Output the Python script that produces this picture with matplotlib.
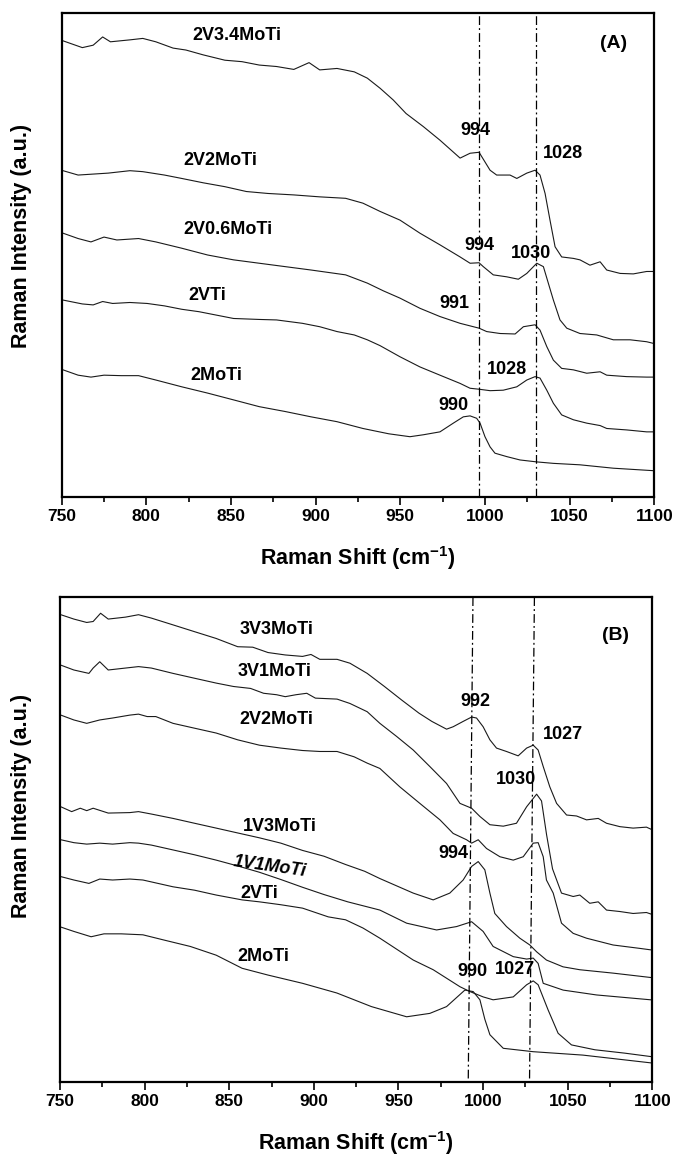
import matplotlib
matplotlib.use("Agg")
import matplotlib.pyplot as plt
from matplotlib.ticker import MultipleLocator

# ---------------- panel A data (Raman shift, intensity a.u.) ----------------
a_2v34_x = [750.8, 762.2, 768.6, 774.2, 778.8, 790.3, 797.9, 805.6, 815.8, 823.4, 833.6, 846.4, 856.5,
            866.7, 876.9, 887.1, 896.1, 902.4, 912.6, 922.8, 930.5, 938.1, 945.8, 953.4, 963.6, 973.4,
            985.3, 991.2, 996.5, 1003.0, 1006.9, 1014.8, 1018.8, 1024.7, 1029.6, 1032.5, 1035.5, 1038.4,
            1041.4, 1045.3, 1052.2, 1056.1, 1062.0, 1068.0, 1071.9, 1079.8, 1087.6, 1095.5, 1099.0]
a_2v34_y = [94.2, 92.8, 93.3, 95.0, 94.0, 94.4, 94.7, 94.0, 92.7, 92.3, 91.3, 90.2, 89.9,
            89.2, 88.9, 88.3, 89.7, 88.2, 88.5, 87.8, 86.5, 84.4, 82.0, 79.2, 76.5, 73.7,
            70.0, 71.0, 71.2, 67.5, 66.5, 66.5, 65.8, 66.9, 67.5, 66.5, 62.7, 57.2,
            51.7, 49.6, 49.3, 49.0, 47.9, 48.6, 46.9, 46.2, 46.1, 46.6, 46.6]

a_2v2_x = [750.8, 759.7, 777.5, 790.3, 797.9, 810.7, 820.9, 833.6, 846.4, 859.1, 871.8, 887.1, 902.4,
           917.7, 927.9, 938.0, 949.8, 961.6, 973.4, 985.3, 991.2, 996.5, 999.0, 1004.9, 1012.8, 1019.7,
           1024.7, 1030.6, 1034.5, 1037.4, 1040.4, 1044.3, 1048.3, 1056.1, 1066.0, 1075.8, 1085.7,
           1095.5, 1099.0]
a_2v2_y = [67.4, 66.5, 66.9, 67.4, 67.2, 66.5, 65.8, 64.9, 64.1, 63.1, 62.7, 62.4, 62.0,
           61.7, 60.7, 59.0, 57.2, 54.5, 52.1, 49.6, 48.3, 48.4, 47.6, 45.9, 45.5, 45.0,
           46.2, 48.3, 47.6, 44.2, 40.7, 36.6, 34.9, 33.8, 33.5, 32.5, 32.5, 32.1, 31.8]

a_2v06_x = [750.8, 759.7, 767.3, 775.0, 782.6, 795.4, 805.6, 820.9, 836.2, 851.5, 866.7, 882.0, 897.3,
            917.7, 930.5, 940.0, 949.8, 961.6, 973.4, 985.3, 996.5, 1001.0, 1008.9, 1017.8, 1022.7,
            1029.6, 1032.5, 1036.5, 1040.4, 1045.3, 1052.2, 1060.1, 1068.0, 1071.9, 1083.7, 1095.5, 1099.0]
a_2v06_y = [54.5, 53.4, 52.7, 53.7, 53.1, 53.4, 52.7, 51.4, 50.0, 49.0, 48.3, 47.6, 46.9,
            45.9, 44.2, 42.6, 41.1, 39.0, 37.3, 35.9, 34.9, 34.2, 33.8, 33.7, 35.2,
            35.6, 34.5, 31.1, 28.3, 26.6, 26.3, 25.6, 25.9, 25.2, 24.9, 24.8, 24.8]

a_2vti_x = [750.8, 762.2, 768.6, 774.2, 780.1, 790.3, 800.5, 810.7, 820.9, 831.1, 841.3, 851.5, 866.7,
            876.9, 892.2, 902.4, 912.6, 922.8, 930.5, 938.0, 949.8, 961.6, 973.4, 985.3, 991.2, 996.5,
            1003.0, 1010.8, 1018.8, 1024.7, 1029.6, 1032.5, 1036.5, 1040.4, 1045.3, 1052.2, 1060.1,
            1068.0, 1071.9, 1083.7, 1095.5, 1099.0]
a_2vti_y = [40.7, 39.9, 39.7, 40.4, 40.0, 40.2, 40.0, 39.5, 38.8, 38.3, 37.6, 36.9, 36.7,
            36.6, 35.9, 35.2, 34.2, 33.5, 32.5, 31.3, 29.0, 26.9, 25.2, 23.5, 22.5, 22.3,
            22.0, 22.1, 22.8, 24.2, 24.9, 24.6, 22.1, 19.4, 17.0, 16.0, 15.3,
            14.8, 14.2, 13.9, 13.5, 13.5]

a_2moti_x = [750.8, 759.7, 767.3, 775.0, 785.2, 795.4, 805.6, 820.9, 836.2, 851.5, 866.7, 882.0, 897.3,
             912.6, 927.9, 943.2, 955.7, 963.6, 973.4, 981.3, 987.2, 991.2, 995.1, 997.1, 1000.0,
             1003.0, 1005.9, 1012.8, 1020.7, 1030.6, 1040.4, 1056.1, 1075.8, 1099.0]
a_2moti_y = [26.3, 25.2, 24.8, 25.2, 25.1, 25.1, 24.2, 22.8, 21.5, 20.1, 18.7, 17.7, 16.6,
             15.6, 14.2, 13.1, 12.5, 12.9, 13.5, 15.3, 16.6, 16.8, 16.3, 15.3, 12.5,
             10.4, 9.1, 8.4, 7.7, 7.3, 7.0, 6.7, 6.0, 5.5]

# ---------------- panel B data ----------------
b_3v3_x = [750.5, 758.2, 765.8, 769.6, 774.0, 778.5, 788.7, 796.4, 804.0, 816.8, 829.5, 842.3, 855.0,
           863.9, 872.9, 883.1, 893.3, 898.3, 903.5, 913.7, 921.3, 931.5, 941.7, 951.9, 962.1, 969.7,
           978.4, 982.3, 988.2, 993.2, 996.1, 1000.0, 1004.0, 1007.9, 1013.8, 1020.7, 1025.7, 1029.6,
           1032.5, 1035.5, 1039.4, 1043.4, 1049.3, 1055.2, 1061.1, 1068.0, 1072.9, 1080.8, 1088.6,
           1096.5, 1099.0]
b_3v3_y = [96.4, 95.5, 94.8, 95.0, 96.7, 95.5, 95.9, 96.4, 95.7, 94.3, 92.9, 91.5, 89.8,
           89.7, 88.6, 88.1, 87.8, 88.2, 87.2, 87.2, 86.4, 84.3, 81.6, 78.8, 76.1, 74.4,
           72.8, 73.3, 74.4, 75.3, 75.1, 73.3, 70.6, 68.9, 68.2, 67.3, 68.9, 69.5,
           68.5, 65.1, 60.9, 57.5, 55.1, 54.9, 54.1, 54.4, 53.4, 52.7, 52.4, 52.6, 52.2]

b_3v1_x = [750.5, 758.2, 767.1, 769.6, 773.5, 778.5, 788.7, 796.4, 804.0, 816.8, 829.5, 842.3, 852.5,
           862.6, 870.3, 878.0, 883.1, 889.4, 895.8, 900.9, 913.7, 921.3, 931.5, 939.0, 948.9, 958.7,
           968.5, 978.4, 986.3, 993.2, 998.1, 1004.0, 1011.9, 1019.7, 1025.7, 1031.6, 1034.5, 1037.5,
           1041.0, 1046.3, 1053.2, 1057.1, 1063.0, 1068.0, 1072.9, 1080.8, 1088.6, 1096.5, 1099.0]
b_3v1_y = [86.0, 85.0, 84.3, 85.4, 86.7, 85.0, 85.4, 85.7, 85.4, 84.3, 83.3, 82.3, 81.6,
           81.2, 80.2, 79.9, 79.5, 79.9, 80.2, 79.2, 79.0, 78.1, 76.4, 74.0, 71.3, 68.5,
           65.1, 61.6, 57.5, 56.5, 54.8, 53.1, 52.8, 53.4, 56.8, 59.4, 58.0, 51.0,
           44.0, 39.0, 38.3, 38.6, 36.9, 37.2, 35.5, 35.2, 34.8, 35.0, 34.7]

b_2v2_x = [750.5, 758.2, 765.8, 773.5, 781.1, 791.3, 796.4, 801.5, 806.6, 816.8, 829.5, 842.3, 855.0,
           867.8, 880.5, 893.3, 903.5, 913.7, 923.8, 931.5, 939.0, 950.8, 962.6, 974.5, 982.3, 990.2,
           993.2, 997.1, 1002.0, 1009.9, 1017.8, 1023.7, 1029.6, 1032.5, 1035.5, 1037.4, 1041.4,
           1046.3, 1053.2, 1061.1, 1076.8, 1092.6, 1099.0]
b_2v2_y = [75.7, 74.7, 74.0, 74.7, 75.1, 75.7, 75.9, 75.4, 75.4, 74.0, 73.0, 72.0, 70.6,
           69.5, 68.9, 68.4, 68.2, 68.2, 67.1, 65.8, 64.7, 60.9, 57.5, 54.1, 51.3, 50.0,
           49.3, 50.0, 48.2, 46.5, 45.8, 46.5, 49.3, 49.4, 46.5, 41.7, 39.0,
           32.8, 30.7, 29.7, 28.3, 27.6, 27.3]

b_1v3_x = [750.5, 756.9, 762.0, 765.8, 769.6, 778.5, 791.3, 796.4, 804.0, 816.8, 829.5, 842.3, 855.0,
           867.8, 880.5, 893.3, 906.0, 918.7, 930.0, 939.0, 958.7, 970.5, 980.3, 988.2, 993.2, 997.1,
           1001.0, 1004.0, 1006.9, 1013.8, 1021.7, 1027.6, 1031.6, 1037.4, 1047.2, 1057.1, 1076.8, 1099.0]
b_1v3_y = [56.8, 55.8, 56.5, 56.0, 56.5, 55.5, 55.6, 55.8, 55.3, 54.4, 53.4, 52.4, 51.4,
           50.4, 49.3, 47.8, 46.6, 44.9, 43.5, 42.0, 39.0, 37.6, 39.0, 41.7, 44.5, 45.5,
           43.8, 39.0, 34.8, 32.1, 29.7, 28.3, 26.9, 25.2, 23.8, 23.2, 22.5, 21.6]

b_1v1_x = [750.5, 758.2, 765.8, 773.5, 781.1, 791.3, 796.4, 804.0, 816.8, 829.5, 842.3, 855.0, 867.8,
           880.5, 893.3, 906.0, 920.0, 939.0, 954.8, 972.5, 984.3, 993.2, 1000.0, 1005.9, 1017.8,
           1025.7, 1029.6, 1032.5, 1035.5, 1047.3, 1067.0, 1099.0]
b_1v1_y = [50.0, 49.4, 49.1, 49.3, 49.1, 49.4, 49.3, 48.9, 47.9, 46.9, 45.8, 44.6, 43.3,
           41.8, 40.2, 38.7, 37.2, 35.5, 32.8, 31.4, 32.1, 33.1, 31.1, 28.0, 25.9,
           25.4, 25.6, 24.5, 20.4, 19.0, 18.0, 17.0]

b_2vti_x = [750.5, 758.2, 767.1, 773.5, 781.1, 791.3, 799.0, 816.8, 829.5, 842.3, 857.6, 867.8, 880.5,
            893.3, 908.5, 918.7, 929.0, 939.0, 958.7, 970.5, 986.3, 992.2, 1000.0, 1005.9, 1017.8,
            1025.7, 1029.6, 1032.5, 1038.4, 1044.3, 1052.2, 1066.0, 1083.7, 1099.0]
b_2vti_y = [42.4, 41.7, 41.0, 41.9, 41.7, 41.9, 41.7, 40.3, 39.6, 38.6, 37.6, 37.2, 36.6,
            35.9, 34.1, 33.5, 31.8, 29.7, 25.2, 23.2, 19.7, 18.7, 17.6, 17.0, 17.6,
            20.1, 20.9, 20.1, 14.9, 10.1, 7.7, 6.7, 6.0, 5.3]

b_2moti_x = [750.5, 758.2, 768.4, 776.0, 786.2, 799.0, 811.7, 827.0, 842.3, 857.6, 872.9, 893.3, 913.6,
             934.0, 954.8, 968.5, 978.4, 989.2, 994.1, 998.1, 1001.0, 1004.0, 1011.9, 1029.6, 1058.9,
             1099.0]
b_2moti_y = [32.0, 31.1, 30.0, 30.6, 30.6, 30.4, 29.3, 28.0, 26.2, 23.5, 22.1, 20.4, 18.4,
             15.6, 13.5, 14.2, 15.6, 19.0, 18.7, 17.0, 13.0, 9.8, 7.0, 6.3, 5.6, 4.0]

# reference lines (top x, bottom x)
a_ref = [996.5, 1030.0]
b_ref_top = [994.0, 1030.3]
b_ref_bot = [991.2, 1027.4]

# labels: text, x, y
a_labels = [("2V3.4MoTi", 853.5, 95.4), ("2V2MoTi", 843.8, 69.4), ("2V0.6MoTi", 848.4, 55.2),
            ("2VTi", 836.2, 41.7), ("2MoTi", 841.3, 25.2),
            ("994", 994.5, 75.6), ("1028", 1045.9, 71.0), ("994", 996.5, 51.9), ("1030", 1027.0, 50.3),
            ("991", 981.7, 40.0), ("1028", 1012.8, 26.3), ("990", 981.3, 19.0)]
b_labels = [("3V3MoTi", 878.0, 93.3), ("3V1MoTi", 876.7, 84.7), ("2V2MoTi", 878.0, 74.7),
            ("1V3MoTi", 880.0, 52.7), ("2VTi", 867.8, 39.0), ("2MoTi", 870.3, 25.9),
            ("992", 995.2, 78.5), ("1027", 1047.3, 71.6), ("1030", 1019.7, 62.5),
            ("994", 982.7, 47.2), ("990", 993.8, 22.8), ("1027", 1018.8, 23.2)]

plt.rcParams['font.family'] = ['Liberation Sans', 'DejaVu Sans']
plt.rcParams['font.weight'] = 'bold'
plt.rcParams['mathtext.fontset'] = 'custom'
plt.rcParams['mathtext.rm'] = 'Liberation Sans:bold'
plt.rcParams['mathtext.it'] = 'Liberation Sans:bold:italic'
plt.rcParams['mathtext.bf'] = 'Liberation Sans:bold'

fig = plt.figure(figsize=(6.8, 11.57), dpi=100)
axA = fig.add_axes([0.0907, 0.5702, 0.8715, 0.4188])
axB = fig.add_axes([0.0882, 0.0646, 0.8712, 0.4192])

line_kw = dict(color='#1a1a1a', lw=0.8)
ref_kw = dict(color='black', lw=0.9, ls=(0, (7, 2.5, 1.5, 2.5)))


def style(ax, ylab_x, ylab_y):
    ax.set_xlim(750, 1100)
    ax.set_ylim(0, 100)
    ax.xaxis.set_major_locator(MultipleLocator(50))
    ax.xaxis.set_minor_locator(MultipleLocator(25))
    ax.tick_params(axis='x', which='major', direction='out', length=5.5, width=1.2,
                   labelsize=12.5, pad=3, top=False)
    ax.tick_params(axis='x', which='minor', direction='out', length=3.5, width=1.2, top=False)
    ax.set_yticks([])
    for sp in ax.spines.values():
        sp.set_linewidth(1.6)
    ax.set_xlabel(r'Raman Shift (cm$^{-1}$)', fontsize=15.5, fontweight='bold')
    ax.xaxis.set_label_coords(0.5, -0.097)
    ax.set_ylabel('Raman Intensity (a.u.)', fontsize=15.5, fontweight='bold')
    ax.yaxis.set_label_coords(ylab_x, ylab_y)


# panel A
for xs, ys in [(a_2v34_x, a_2v34_y), (a_2v2_x, a_2v2_y), (a_2v06_x, a_2v06_y),
               (a_2vti_x, a_2vti_y), (a_2moti_x, a_2moti_y)]:
    axA.plot(xs, ys, **line_kw)
for xr in a_ref:
    axA.axvline(xr, **ref_kw)
for s, x, y in a_labels:
    axA.text(x, y, s, ha='center', va='center', fontsize=13, fontweight='bold')
axA.text(1075.8, 93.7, '(A)', ha='center', va='center', fontsize=14, fontweight='bold')
style(axA, -0.050, 0.54)

# panel B
for xs, ys in [(b_3v3_x, b_3v3_y), (b_3v1_x, b_3v1_y), (b_2v2_x, b_2v2_y), (b_1v3_x, b_1v3_y),
               (b_1v1_x, b_1v1_y), (b_2vti_x, b_2vti_y), (b_2moti_x, b_2moti_y)]:
    axB.plot(xs, ys, **line_kw)
for xt, xb in zip(b_ref_top, b_ref_bot):
    axB.plot([xt, xb], [100, 0], **ref_kw)
for s, x, y in b_labels:
    axB.text(x, y, s, ha='center', va='center', fontsize=13, fontweight='bold')
axB.text(874.0, 44.5, '1V1MoTi', ha='center', va='center', fontsize=13, fontweight='bold',
         style='italic', rotation=-8)
axB.text(1078.0, 92.2, '(B)', ha='center', va='center', fontsize=14, fontweight='bold')
style(axB, -0.047, 0.57)

fig.savefig('out.png', dpi=100)
